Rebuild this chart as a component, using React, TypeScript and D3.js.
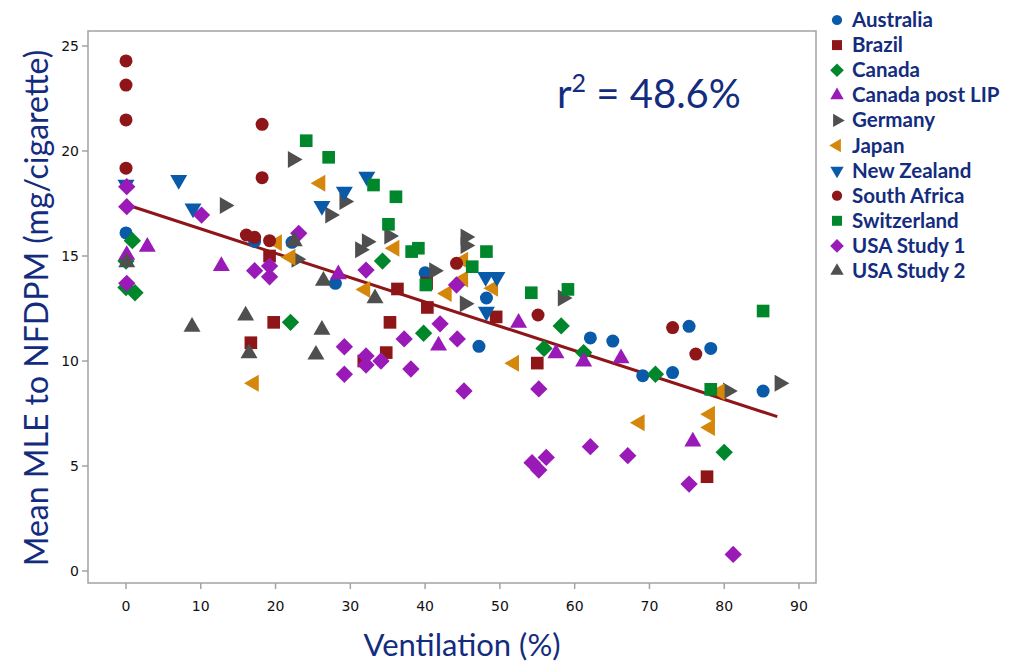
import React from "react";
import * as d3 from "d3";

const seriesNames = ["Australia", "Brazil", "Canada", "Canada post LIP", "Germany", "Japan", "New Zealand", "South Africa", "Switzerland", "USA Study 1", "USA Study 2"];
const seriesColors = ["#0A5AAA", "#8E1518", "#00862B", "#9A1AB8", "#4F4F4F", "#D4870A", "#0A5AAA", "#8E1518", "#00862B", "#9A1AB8", "#4F4F4F"];
const seriesShapes = ["circle", "square", "diamond", "up", "right", "left", "down", "circle", "square", "diamond", "up"];

const australia = [[0,16.1],[17.2,15.7],[22.2,15.65],[28,13.7],[40,14.2],[47.2,10.7],[48.2,13.0],[62.1,11.1],[65.1,10.95],[69.1,9.3],[73.1,9.45],[75.3,11.65],[78.2,10.6],[85.2,8.57]];
const brazil = [[16.7,10.87],[19.2,15.0],[19.75,11.84],[31.8,10.0],[34.8,10.4],[35.3,11.84],[36.3,13.43],[40.2,13.7],[40.3,12.55],[49.5,12.1],[55,9.9],[77.7,4.49]];
const canada = [[0,14.76],[0,13.5],[0.85,15.73],[1.2,13.25],[22,11.84],[34.3,14.76],[39.8,11.32],[55.9,10.6],[58.2,11.67],[61.2,10.4],[70.8,9.37],[80,5.65]];
const canadaPostLIP = [[0.1,15.05],[2.85,15.44],[12.75,14.52],[28.4,14.13],[41.8,10.73],[52.5,11.82],[57.5,10.37],[61.2,9.97],[66.2,10.13],[75.8,6.16]];
const germany = [[13.2,17.4],[22.3,19.6],[22.8,14.85],[27.3,16.95],[29.2,17.6],[31.3,15.3],[32.2,15.68],[35.2,15.95],[41.2,14.3],[45.3,12.73],[45.4,15.9],[45.4,15.5],[58.4,13.0],[80.5,8.57],[87.4,8.94]];
const japan = [[17.1,8.94],[20.2,15.63],[22,14.94],[26,18.46],[32,13.41],[35.9,15.37],[42.9,13.22],[45.1,14.8],[45.1,13.9],[49.1,13.46],[51.9,9.89],[68.7,7.06],[78.1,7.46],[78.1,6.83],[79.4,8.54]];
const newZealand = [[0,18.4],[7.05,18.62],[8.96,17.27],[26.2,17.38],[29.2,18.06],[32.2,18.78],[48.1,14.0],[49.6,14.0],[48.2,12.35]];
const southAfrica = [[0,24.29],[0,23.14],[0,21.48],[0,19.18],[16.1,16.0],[17.2,15.89],[18.2,21.27],[18.2,18.73],[19.2,15.73],[44.2,14.65],[55.1,12.19],[73.1,11.59],[76.2,10.33]];
const switzerland = [[24.1,20.49],[27.1,19.7],[33.1,18.38],[36.1,17.82],[35.1,16.51],[38.2,15.21],[39.1,15.37],[40.1,13.62],[46.3,14.49],[48.2,15.21],[54.2,13.25],[59.1,13.41],[78.2,8.65],[85.2,12.38]];
const usaStudy1 = [[0.1,18.3],[0.1,17.35],[0.1,13.7],[10.1,16.95],[17.2,14.3],[19.2,14.52],[19.2,14.01],[23.1,16.08],[29.2,10.68],[29.2,9.37],[32.1,14.33],[32.1,10.24],[32.1,9.81],[34.1,10.0],[37.2,11.05],[38.1,9.62],[42,11.77],[44.2,13.62],[44.3,11.05],[45.2,8.57],[54.3,5.16],[55.2,4.81],[55.2,8.67],[56.2,5.41],[62.1,5.92],[67.1,5.49],[75.3,4.14],[81.2,0.79]];
const usaStudy2 = [[0.1,14.7],[8.83,11.63],[16,12.16],[16.45,10.37],[22.5,15.7],[25.4,10.3],[26.2,11.48],[26.4,13.82],[33.3,12.98]];

const seriesData = [australia, brazil, canada, canadaPostLIP, germany, japan, newZealand, southAfrica, switzerland, usaStudy1, usaStudy2];

const xTicks = [0, 10, 20, 30, 40, 50, 60, 70, 80, 90];
const yTicks = [0, 5, 10, 15, 20, 25];
const fitLine = [[0, 17.45], [87.1, 7.35]];
const rSquaredLabel = "48.6%";

const navy = "#132C7E";

function symbolPath(shape: string, scale: number) {
  if (shape === "circle") return { d: d3.symbol(d3.symbolCircle, 133 * scale)() as string, rot: 0 };
  if (shape === "square") return { d: d3.symbol(d3.symbolSquare, 160 * scale)() as string, rot: 0 };
  if (shape === "diamond") return { d: d3.symbol(d3.symbolSquare, 150 * scale)() as string, rot: 45 };
  const tri = d3.symbol(d3.symbolTriangle, 125 * scale)() as string;
  const rot = shape === "up" ? 0 : shape === "right" ? 90 : shape === "down" ? 180 : 270;
  return { d: tri, rot };
}

export default function App() {
  const x = d3.scaleLinear().domain([0, 90]).range([126, 799]);
  const y = d3.scaleLinear().domain([0, 25]).range([571, 46]);
  const frame = { left: 88, right: 816, top: 31, bottom: 583 };
  const line = d3.line<number[]>().x((d) => x(d[0])).y((d) => y(d[1]));
  const tickFont = "'DejaVu Sans', sans-serif";
  const labelFont = "Lato, 'Open Sans', sans-serif";

  return (
    <svg width={1013} height={665} style={{ position: "absolute", left: 0, top: 0, background: "#fff" }}>
      <rect x={0} y={0} width={1013} height={665} fill="#fff" />
      <rect x={frame.left} y={frame.top} width={frame.right - frame.left} height={frame.bottom - frame.top} fill="none" stroke="#A3A3A3" strokeWidth={1.5} />
      {xTicks.map((t) => (
        <g key={"xt" + t}>
          <line x1={x(t)} x2={x(t)} y1={frame.bottom} y2={frame.bottom + 6} stroke="#A3A3A3" strokeWidth={1.5} />
          <text x={x(t)} y={611} textAnchor="middle" fontFamily={tickFont} fontSize={14} fill="#111">{t}</text>
        </g>
      ))}
      {yTicks.map((t) => (
        <g key={"yt" + t}>
          <line x1={frame.left - 6} x2={frame.left} y1={y(t)} y2={y(t)} stroke="#A3A3A3" strokeWidth={1.5} />
          <text x={79} y={y(t) + 5} textAnchor="end" fontFamily={tickFont} fontSize={14} fill="#111">{t}</text>
        </g>
      ))}
      <text x={462} y={656} textAnchor="middle" fontFamily={labelFont} fontSize={31} fill={navy}>Ventilation (%)</text>
      <text transform={`translate(48,${308}) rotate(-90)`} textAnchor="middle" fontFamily={labelFont} fontSize={32} fill={navy}>Mean MLE to NFDPM (mg/cigarette)</text>
      <path d={line(fitLine) as string} fill="none" stroke="#8E1518" strokeWidth={3} />
      {seriesData.map((data, si) => {
        const s = symbolPath(seriesShapes[si], 1);
        return (
          <g key={"s" + si}>
            {data.map((d, i) => (
              <path key={i} d={s.d} fill={seriesColors[si]} transform={`translate(${x(d[0])},${y(d[1])}) rotate(${s.rot})`} />
            ))}
          </g>
        );
      })}
      <text x={557} y={108} fontFamily={labelFont} fontSize={40} fill={navy}>
        r<tspan dy={-16} fontSize={25}>2</tspan><tspan dy={16}>{" = " + rSquaredLabel}</tspan>
      </text>
      {seriesNames.map((name, i) => {
        const s = symbolPath(seriesShapes[i], 0.62);
        const cy = 20 + i * 25.1;
        return (
          <g key={"lg" + i}>
            <path d={s.d} fill={seriesColors[i]} transform={`translate(837,${cy}) rotate(${s.rot})`} />
            <text x={852} y={cy + 7} fontFamily={labelFont} fontWeight={700} fontSize={20.5} fill={navy}>{name}</text>
          </g>
        );
      })}
    </svg>
  );
}
